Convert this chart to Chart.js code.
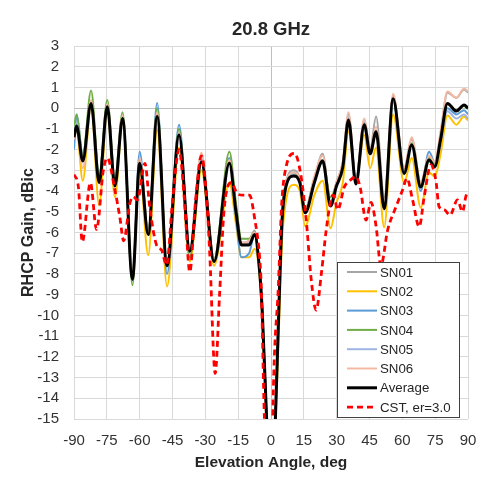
<!DOCTYPE html>
<html><head><meta charset="utf-8">
<script src="https://cdn.jsdelivr.net/npm/chart.js@4.4.0/dist/chart.umd.min.js"></script>
<style>html,body{margin:0;padding:0;background:#fff;}#wrap{position:relative;width:482px;height:480px;}</style>
</head><body><div id="wrap"><canvas id="c" width="482" height="480"></canvas></div>
<script>
const angles = [-90, -88.8, -86, -82.2, -78.5, -74.8, -71.3, -67.8, -63.3, -60, -56.1, -52, -47.5, -42, -37.1, -31.8, -26, -19, -16, -13.5, -10, -7.5, -5.5, -4, -2, 0, 2, 3.5, 5, 6.8, 10.4, 13.2, 15.6, 19.8, 23.6, 27.2, 29.8, 32.8, 35.4, 38.8, 42.6, 45.3, 48, 51.7, 55.8, 60.8, 64.3, 68.4, 72.2, 74.8, 77.5, 80.6, 84.7, 88.2, 90];
const sn01 = [-1.2, -0.8, -2.3, 0.3, -3.4, 0.15, -3.6, -0.4, -8.2, -2.5, -6.0, -0.3, -7.5, -1.2, -6.8, -2.3, -7.3, -2.5, -4.8, -6.5, -6.4, -5.9, -7.4, -9.7, -15, -20, -15, -10, -5.4, -3.6, -3.0, -3.4, -4.9, -3.4, -2.2, -4.6, -3.6, -2.6, -0.3, -3.5, -0.55, -2.0, -0.4, -4.3, 0.6, -2.9, -1.5, -3.6, -2.35, -2.7, -1.2, 0.75, 0.5, 0.9, 0.75];
const sn02 = [-1.6, -1.0, -3.5, 0.1, -4.7, -0.1, -4.3, -0.7, -7.9, -3.0, -7.1, -1.05, -8.6, -1.9, -7.4, -3.0, -7.6, -3.6, -5.6, -7.2, -7.2, -6.8, -7.8, -10.2, -15.5, -20, -15.5, -11, -6.5, -4.5, -3.7, -4.0, -5.7, -4.2, -3.5, -5.8, -4.6, -3.6, -1.1, -3.5, -1.3, -2.9, -1.9, -5.75, -0.3, -3.6, -2.4, -4.8, -3.1, -3.3, -2.2, -0.35, -0.8, -0.4, -0.6];
const sn03 = [-2.0, -0.3, -2.3, 0.25, -3.3, 0.1, -3.6, -0.45, -8.3, -2.1, -6.0, 0.25, -8.0, -0.8, -6.9, -2.5, -7.4, -2.4, -5.3, -7.2, -7.0, -6.1, -7.5, -9.8, -15, -20, -15, -10, -5.3, -3.6, -3.1, -3.5, -5.0, -3.5, -2.6, -4.6, -3.7, -2.8, -0.5, -3.4, -0.7, -2.1, -1.1, -4.9, 0.4, -3.2, -1.7, -4.0, -2.1, -2.6, -1.5, 0.0, -0.3, -0.1, -0.3];
const sn04 = [-0.9, -0.3, -2.3, 0.85, -3.3, 0.4, -3.4, -0.2, -8.55, -2.5, -6.0, 0.0, -7.5, -1.0, -7.2, -2.5, -7.3, -2.1, -4.6, -6.3, -6.3, -6.0, -7.4, -9.7, -15, -20, -15, -10, -5.4, -3.7, -3.2, -3.5, -4.9, -3.4, -2.5, -4.3, -3.7, -2.8, -0.55, -3.6, -0.75, -2.2, -1.1, -4.7, 0.45, -3.1, -1.7, -3.7, -2.4, -2.75, -1.5, 0.2, -0.1, 0.1, -0.05];
const sn05 = [-1.3, -0.7, -2.4, 0.2, -3.5, 0.05, -3.7, -0.5, -8.2, -2.6, -6.0, -0.35, -7.6, -1.2, -6.9, -2.5, -7.4, -2.6, -5.0, -6.6, -6.5, -6.1, -7.5, -9.8, -15, -20, -15, -10, -5.5, -3.7, -3.2, -3.6, -5.0, -3.5, -2.5, -4.7, -3.8, -2.8, -0.5, -3.6, -0.75, -2.2, -1.1, -4.8, 0.4, -3.1, -1.8, -3.8, -2.5, -2.8, -1.6, -0.15, -0.5, -0.3, -0.5];
const sn06 = [-1.5, -0.9, -2.9, 0.4, -3.5, 0.2, -3.6, -0.35, -8.2, -2.4, -6.0, -0.2, -7.5, -1.2, -6.9, -2.15, -7.3, -2.5, -4.9, -6.5, -6.4, -6.0, -7.4, -9.7, -15, -20, -15, -10, -5.4, -3.6, -3.1, -3.4, -4.9, -3.3, -2.3, -4.6, -3.6, -2.6, -0.2, -3.5, -0.5, -2.0, -0.9, -4.6, 0.7, -2.9, -1.4, -3.6, -2.3, -2.6, -1.1, 0.8, 0.5, 0.95, 0.8];
const average = [-1.4, -0.86, -2.55, 0.23, -3.6, 0.07, -3.75, -0.5, -8.25, -2.66, -6.1, -0.4, -7.6, -1.3, -6.9, -2.6, -7.4, -2.66, -5.0, -6.6, -6.6, -6.1, -7.5, -9.8, -15, -20, -15, -10, -5.5, -3.8, -3.27, -3.6, -5.05, -3.6, -2.55, -4.72, -3.8, -2.85, -0.57, -3.66, -0.8, -2.2, -1.14, -4.84, 0.45, -3.14, -1.78, -3.8, -2.5, -2.83, -1.5, 0.23, -0.14, 0.15, 0.0];
const cstAngles = [-90, -88, -86.2, -82.5, -79.7, -76.6, -74.8, -71.3, -69.1, -67.3, -64.5, -63, -61, -57.6, -55.4, -52.3, -50, -47.7, -45, -42, -39.5, -37.1, -34.5, -31.8, -29.5, -28, -25.5, -23.5, -21.5, -18.1, -15.5, -12.8, -9.8, -7.5, -5.2, -4.5, -3, 0, 0.8, 3.4, 4.9, 6.9, 10.7, 13.5, 16.1, 18.4, 20.6, 23.2, 25.2, 27.4, 28.5, 30.5, 33.5, 36, 38.8, 40.7, 43.4, 45.7, 48, 50.2, 53.3, 57.1, 60.1, 62.1, 64.7, 67.7, 70, 73, 75.3, 76.8, 79.1, 81.8, 85.2, 87.5, 89, 90];
const cst = [-3.2, -3.8, -6.45, -3.6, -5.85, -3.0, -2.4, -3.95, -5.24, -6.4, -4.6, -4.27, -4.43, -2.66, -4.76, -6.6, -6.85, -7.57, -4.5, -2.0, -4.5, -7.9, -4.5, -2.3, -4.2, -7.0, -12.8, -9.0, -5.0, -3.6, -4.1, -4.2, -4.2, -5.3, -7.2, -8.5, -15, -22, -15, -8.5, -4.6, -2.83, -2.18, -3.14, -5.4, -8.3, -9.74, -7.8, -5.9, -4.4, -4.2, -4.9, -3.8, -3.5, -3.3, -3.8, -5.4, -4.55, -5.7, -7.6, -5.88, -4.76, -3.95, -3.39, -4.43, -5.72, -4.27, -2.74, -3.47, -4.76, -4.9, -5.16, -4.43, -5.0, -4.27, -4.0];
const xTickValues = [-90, -75, -60, -45, -30, -15, 0, 15, 30, 45, 60, 75, 90];
const yTickValues = [-15, -14, -13, -12, -11, -10, -9, -8, -7, -6, -5, -4, -3, -2, -1, 0, 1, 2, 3];
const seriesNames = ['SN01', 'SN02', 'SN03', 'SN04', 'SN05', 'SN06', 'Average', 'CST, er=3.0'];

const FONT = "'Liberation Sans', Arial, sans-serif";
function pts(xs, ys) { return xs.map((x, i) => ({ x: x, y: ys[i] })); }
function ds(label, xs, ys, color, width, order, dash) {
  return { label, data: pts(xs, ys), borderColor: color, backgroundColor: color, borderWidth: width,
    borderDash: dash || [], pointRadius: 0, tension: 0.4, cubicInterpolationMode: 'monotone', fill: false, order };
}
const datasets = [
  ds(seriesNames[0], angles, sn01, '#A5A5A5', 2, 15),
  ds(seriesNames[1], angles, sn02, '#FFC000', 2, 14),
  ds(seriesNames[2], angles, sn03, '#5B9BD5', 2, 13),
  ds(seriesNames[3], angles, sn04, '#70AD47', 2, 12),
  ds(seriesNames[4], angles, sn05, '#9FB4E2', 2, 11),
  ds(seriesNames[5], angles, sn06, '#F4B9A2', 2, 10),
  ds(seriesNames[6], angles, average, '#000000', 3, 1),
  ds(seriesNames[7], cstAngles, cst, '#FF0000', 2.8, 0, [6, 4])
];

const boxLegend = {
  id: 'boxLegend',
  afterDraw(chart) {
    const ctx = chart.ctx, ca = chart.chartArea;
    const w = 122, h = 155;
    const right = ca.right - 9, bottom = ca.bottom - 2;
    const left = right - w, top = bottom - h;
    ctx.save();
    ctx.fillStyle = '#ffffff';
    ctx.fillRect(left, top, w, h);
    ctx.strokeStyle = '#404040';
    ctx.lineWidth = 1;
    ctx.strokeRect(Math.round(left) + 0.5, Math.round(top) + 0.5, w, h);
    ctx.font = '13.3px ' + FONT;
    ctx.textBaseline = 'middle';
    ctx.textAlign = 'left';
    chart.data.datasets.forEach((d, i) => {
      const y = top + 10 + i * 19.3;
      ctx.strokeStyle = d.borderColor;
      ctx.lineWidth = d.borderWidth;
      ctx.setLineDash(d.borderDash || []);
      ctx.beginPath();
      ctx.moveTo(left + 10, y);
      ctx.lineTo(left + 40, y);
      ctx.stroke();
      ctx.setLineDash([]);
      ctx.fillStyle = '#262626';
      ctx.fillText(d.label, left + 43, y + 1);
    });
    ctx.restore();
  }
};

const gridColor = (c) => (c.tick && c.tick.value === 0) ? '#BFBFBF' : '#D9D9D9';

new Chart(document.getElementById('c'), {
  type: 'line',
  data: { datasets },
  plugins: [boxLegend],
  options: {
    responsive: false, animation: false, devicePixelRatio: 1,
    layout: { padding: { left: 0, right: 14, top: 0, bottom: 0 } },
    plugins: {
      legend: { display: false },
      tooltip: { enabled: false },
      title: { display: true, text: '20.8 GHz', fullSize: false, color: '#262626',
        font: { family: FONT, size: 18.5, weight: 'bold' }, padding: { top: 18.9, bottom: 4.9 } }
    },
    scales: {
      x: {
        type: 'linear', min: -90, max: 90,
        afterBuildTicks: (s) => { s.ticks = xTickValues.map(v => ({ value: v })); },
        afterFit: (s) => { s.height = 61; s.paddingLeft = 0; s.paddingRight = 0; },
        grid: { color: gridColor, drawTicks: false, lineWidth: 1 },
        border: { display: false },
        ticks: { color: '#333333', font: { family: FONT, size: 15 }, padding: 13, maxRotation: 0, autoSkip: false },
        title: { display: true, text: 'Elevation Angle, deg', color: '#262626',
          font: { family: FONT, size: 15.5, weight: 'bold' }, padding: { top: 2, bottom: 8 } }
      },
      y: {
        type: 'linear', min: -15, max: 3,
        afterBuildTicks: (s) => { s.ticks = yTickValues.map(v => ({ value: v })); },
        afterFit: (s) => { s.width = 74; },
        grid: { color: gridColor, drawTicks: false, lineWidth: 1 },
        border: { display: false },
        ticks: { color: '#333333', font: { family: FONT, size: 15 }, padding: 15, autoSkip: false },
        title: { display: true, text: 'RHCP Gain, dBic', color: '#262626',
          font: { family: FONT, size: 16, weight: 'bold' }, padding: { top: 19, bottom: 2 } }
      }
    }
  }
});
</script></body></html>
